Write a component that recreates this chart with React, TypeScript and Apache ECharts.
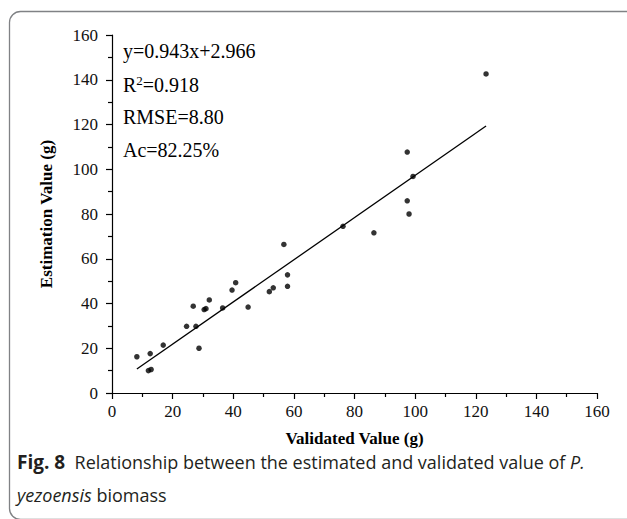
import React, { useEffect, useRef } from 'react';
import * as echarts from 'echarts';

const validatedValues = [8.2, 12.0, 12.9, 12.6, 16.9, 24.6, 26.8, 27.7, 28.7, 30.4, 31.0, 32.1, 36.5, 39.6, 40.8, 44.9, 51.9, 53.2, 56.7, 57.9, 57.9, 76.2, 86.4, 97.4, 99.3, 97.4, 98.0, 123.4];
const estimatedValues = [16.2, 10.0, 10.5, 17.6, 21.4, 29.8, 38.8, 29.8, 20.0, 37.3, 37.7, 41.6, 38.0, 46.0, 49.3, 38.4, 45.3, 47.0, 66.4, 52.8, 47.7, 74.5, 71.6, 107.7, 96.8, 85.9, 80.0, 142.6];
const fitLineX = [8.2, 123.4];
const fitLineY = [10.7, 119.3];
const statLines = ['y=0.943x+2.966', 'R{sup|2}=0.918', 'RMSE=8.80', 'Ac=82.25%'];
const xAxisTitle = 'Validated Value (g)';
const yAxisTitle = 'Estimation Value (g)';
const captionBold = 'Fig. 8';
const captionLine1 = 'Relationship between the estimated and validated value of ';
const captionItalic1 = 'P.';
const captionItalic2 = 'yezoensis';
const captionLine2 = ' biomass';

export default function App() {
  const ref = useRef<HTMLDivElement>(null);
  useEffect(() => {
    document.body.style.margin = '0';
    const chart = echarts.init(ref.current!, null, { renderer: 'svg' });
    const serif = '"Liberation Serif", "Times New Roman", serif';
    const sans = '"Open Sans", "Noto Sans", sans-serif';
    const axisCommon = {
      type: 'value' as const,
      min: 0,
      max: 160,
      interval: 20,
      axisLine: { show: true, onZero: false, lineStyle: { color: '#000', width: 1.2 } },
      axisTick: { show: true, inside: false, length: 6, lineStyle: { color: '#000', width: 1.2 } },
      minorTick: { show: true, splitNumber: 2, length: 4, lineStyle: { color: '#000', width: 1.2 } },
      splitLine: { show: false },
      nameLocation: 'middle' as const,
      nameTextStyle: { fontFamily: serif, fontWeight: 'bold' as const, fontSize: 17, color: '#000' },
    };
    chart.setOption({
      animation: false,
      backgroundColor: '#fff',
      grid: { left: 112, right: 30, top: 35, bottom: 126 },
      xAxis: {
        ...axisCommon,
        name: xAxisTitle,
        nameGap: 37,
        axisLabel: { fontFamily: serif, fontSize: 17, color: '#111', margin: 10 },
      },
      yAxis: {
        ...axisCommon,
        name: yAxisTitle,
        nameGap: 57,
        axisLabel: { fontFamily: serif, fontSize: 17, color: '#111', margin: 14 },
      },
      series: [
        {
          type: 'scatter',
          data: validatedValues.map((v, i) => [v, estimatedValues[i]]),
          symbol: 'circle',
          symbolSize: 5.5,
          itemStyle: { color: '#000' },
        },
        {
          type: 'line',
          data: fitLineX.map((v, i) => [v, fitLineY[i]]),
          showSymbol: false,
          lineStyle: { color: '#000', width: 1.3 },
        },
      ],
      graphic: [
        {
          type: 'rect',
          shape: { x: 9.5, y: 11.5, width: 640, height: 508, r: 11 },
          style: { fill: 'none', stroke: '#808285', lineWidth: 1.3 },
          silent: true,
        },
        ...statLines.map((t, i) => ({
          type: 'text',
          left: 123,
          top: 41 + i * 33,
          style: {
            text: t,
            fontFamily: serif,
            fontSize: 20,
            fill: '#000',
            rich: {
              sup: { fontFamily: serif, fontSize: 13, verticalAlign: 'top', padding: [0, 0, 8, 0], fill: '#000' },
            },
          },
        })),
        {
          type: 'text',
          left: 17,
          top: 445,
          style: {
            text:
              '{b|' + captionBold + '}{n|  ' + captionLine1 + '}{i|' + captionItalic1 + '}\n{i|' + captionItalic2 + '}{n|' + captionLine2 + '}',
            lineHeight: 33,
            rich: {
              b: { fontFamily: sans, fontWeight: 'bold', fontSize: 19, fill: '#231f20', lineHeight: 33 },
              n: { fontFamily: sans, fontSize: 18, fill: '#231f20', lineHeight: 33 },
              i: { fontFamily: sans, fontStyle: 'italic', fontSize: 18, fill: '#231f20', lineHeight: 33 },
            },
          },
        },
      ],
    });
    return () => chart.dispose();
  }, []);
  return <div ref={ref} style={{ width: 627, height: 519 }} />;
}
